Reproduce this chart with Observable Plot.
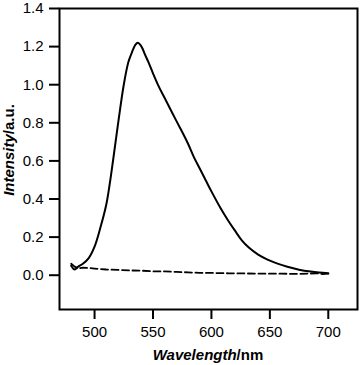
<!DOCTYPE html>
<html>
<head>
<meta charset="utf-8">
<script src="https://cdn.jsdelivr.net/npm/d3@7"></script>
<script src="https://cdn.jsdelivr.net/npm/@observablehq/plot@0.6"></script>
<style>
  html, body { margin: 0; padding: 0; background: #fff; }
  svg { display: block; overflow: visible; }
</style>
</head>
<body>
<div id="chart"></div>
<script>
// Emission spectrum (solid)
const solidWavelength = [480, 483, 486, 490, 495, 500, 505, 510, 513, 516, 520, 525, 529, 532, 535, 537, 539, 541, 543, 546, 550, 555, 560, 565, 570, 576, 580, 585, 590, 595, 600, 608, 614, 620, 626, 632, 640, 648, 656, 665, 675, 685, 692, 700];
const solidIntensity  = [0.05, 0.03, 0.045, 0.06, 0.09, 0.15, 0.25, 0.37, 0.48, 0.61, 0.79, 1.00, 1.12, 1.17, 1.21, 1.22, 1.21, 1.19, 1.16, 1.12, 1.06, 0.99, 0.93, 0.87, 0.81, 0.74, 0.69, 0.62, 0.56, 0.50, 0.44, 0.35, 0.29, 0.235, 0.183, 0.145, 0.108, 0.082, 0.062, 0.044, 0.029, 0.019, 0.014, 0.01];
// Reference spectrum (dashed)
const dashedWavelength = [480, 483, 486, 490, 495, 500, 510, 520, 530, 540, 550, 560, 570, 580, 590, 600, 615, 630, 645, 660, 675, 690, 695, 700];
const dashedIntensity  = [0.06, 0.045, 0.035, 0.04, 0.038, 0.035, 0.03, 0.028, 0.025, 0.024, 0.02, 0.02, 0.017, 0.015, 0.012, 0.012, 0.01, 0.009, 0.008, 0.008, 0.007, 0.01, 0.006, 0.008];

const xTicks = [500, 550, 600, 650, 700];
const yTicks = [0.0, 0.2, 0.4, 0.6, 0.8, 1.0, 1.2, 1.4];

const solid = solidWavelength.map((w, i) => ({w, v: solidIntensity[i]}));
const dashed = dashedWavelength.map((w, i) => ({w, v: dashedIntensity[i]}));

const font = "'Liberation Sans', Arial, sans-serif";

const plot = Plot.plot({
  width: 360,
  height: 365,
  marginLeft: 59,
  marginRight: 3,
  marginTop: 8,
  marginBottom: 56,
  style: {fontFamily: font, fontSize: "15px", color: "#000", background: "#fff", overflow: "visible"},
  x: {domain: [470, 725]},
  y: {domain: [-0.18, 1.4]},
  marks: [
    Plot.axisX({ticks: xTicks, tickSize: 10, tickPadding: 7, strokeWidth: 2, label: null, fontSize: 15}),
    Plot.axisY({ticks: yTicks, tickSize: 10, tickPadding: 6, strokeWidth: 2, tickFormat: d3.format(".1f"), label: null, fontSize: 15}),
    Plot.frame({stroke: "#000", strokeWidth: 2}),
    Plot.line(dashed, {x: "w", y: "v", stroke: "#000", strokeWidth: 1.8, strokeDasharray: "7,3.5"}),
    Plot.line(solid, {x: "w", y: "v", stroke: "#000", strokeWidth: 2, curve: "catmull-rom"})
  ]
});

const svg = d3.select(plot);
// x axis title
const xt = svg.append("text")
  .attr("x", 208).attr("y", 360)
  .attr("text-anchor", "middle")
  .attr("font-family", font).attr("font-size", 15).attr("font-weight", "bold").attr("fill", "#000");
xt.append("tspan").attr("font-style", "italic").text("Wavelength");
xt.append("tspan").text("/nm");
// y axis title
const yt = svg.append("text")
  .attr("transform", "translate(14,150) rotate(-90)")
  .attr("text-anchor", "middle")
  .attr("font-family", font).attr("font-size", 15).attr("font-weight", "bold").attr("fill", "#000");
yt.append("tspan").attr("font-style", "italic").text("Intensity");
yt.append("tspan").text("/a.u.");

document.getElementById("chart").appendChild(plot);
</script>
</body>
</html>
